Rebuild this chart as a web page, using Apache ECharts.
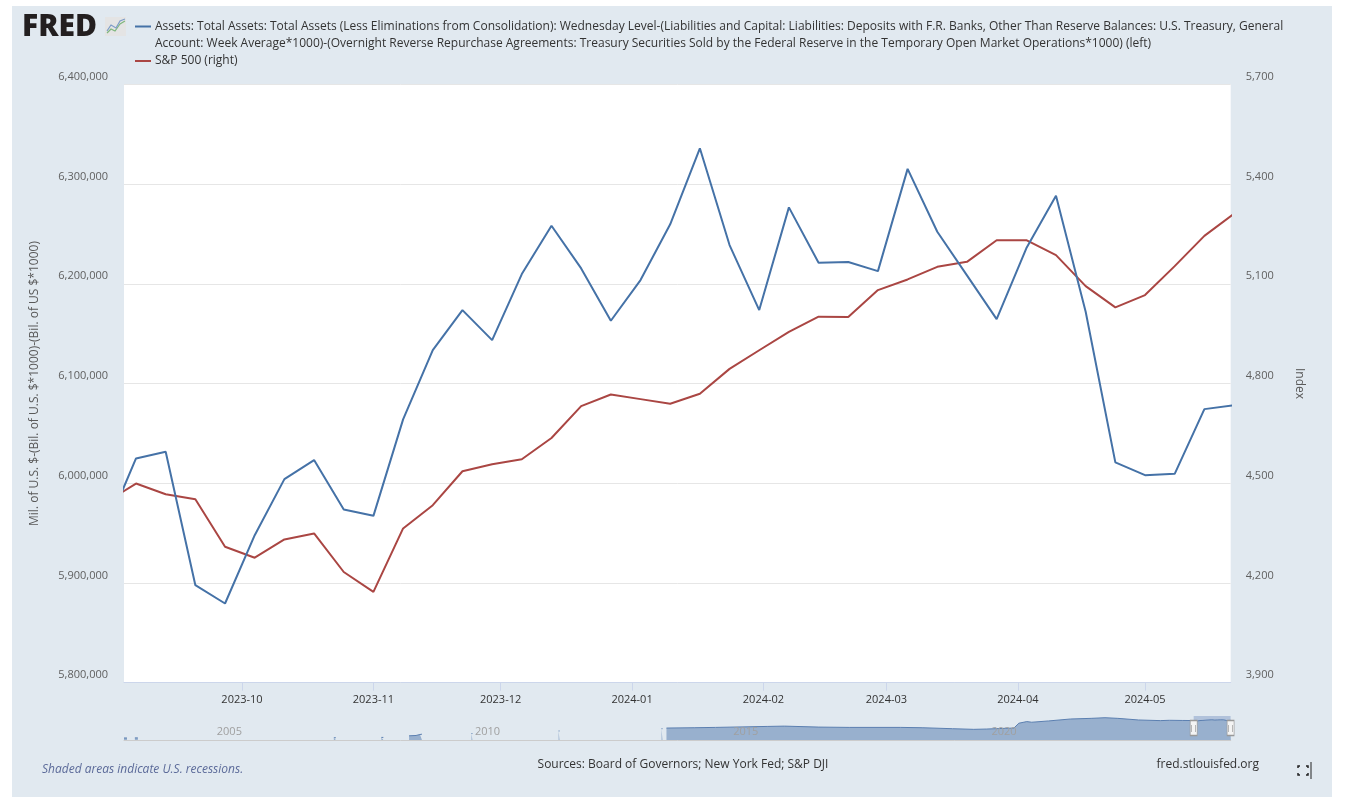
<!DOCTYPE html>
<html>
<head>
<meta charset="utf-8">
<script src="https://cdn.jsdelivr.net/npm/echarts@6/dist/echarts.min.js"></script>
<style>
  html, body { margin: 0; padding: 0; background: #fff; }
  #panel { position: absolute; left: 12px; top: 6px; width: 1320px; height: 791px; background: #e1e9f0; }
  #chart { position: absolute; left: 0; top: 0; width: 1355px; height: 803px; }
</style>
</head>
<body>
<div id="panel"></div>
<div id="chart"></div>
<script>
// weekly observations (first and last fall just outside the visible window)
var weekDates = [
  '2023-08-30', '2023-09-06', '2023-09-13', '2023-09-20', '2023-09-27',
  '2023-10-04', '2023-10-11', '2023-10-18', '2023-10-25',
  '2023-11-01', '2023-11-08', '2023-11-15', '2023-11-22', '2023-11-29',
  '2023-12-06', '2023-12-13', '2023-12-20', '2023-12-27',
  '2024-01-03', '2024-01-10', '2024-01-17', '2024-01-24', '2024-01-31',
  '2024-02-07', '2024-02-14', '2024-02-21', '2024-02-28',
  '2024-03-06', '2024-03-13', '2024-03-20', '2024-03-27',
  '2024-04-03', '2024-04-10', '2024-04-17', '2024-04-24',
  '2024-05-01', '2024-05-08', '2024-05-15', '2024-05-22'
];
var assetsValues = [
  5954500, 6024900, 6031500, 5897800, 5879400,
  5947900, 6004100, 6023200, 5973700,
  5967300, 6064000, 6133500, 6173600, 6143500,
  6209700, 6258200, 6215400, 6162900,
  6203700, 6259600, 6335800, 6238800, 6173600,
  6276600, 6221100, 6221800, 6212700,
  6315200, 6252200, 6208400, 6164600,
  6235500, 6288300, 6171900, 6020900,
  6008100, 6009400, 6074300, 6078300
];
var spxValues = [
  4444, 4499, 4467, 4452, 4309,
  4276, 4331, 4349, 4233,
  4173, 4364, 4434, 4536, 4557,
  4572, 4636, 4732, 4767,
  4753, 4739, 4769, 4844, 4900,
  4955, 5001, 5000, 5081,
  5113, 5151, 5166, 5231,
  5231, 5186, 5093, 5029,
  5066, 5153, 5244, 5311
];
var monthTicks = ['2023-10-01', '2023-11-01', '2023-12-01', '2024-01-01', '2024-02-01',
                  '2024-03-01', '2024-04-01', '2024-05-01'];

// visible window of the main chart
var viewStart = '2023-09-03 04:00:00';
var viewEnd = '2024-05-21 05:00:00';

// long history for the navigator strip ('-' = no observation)
var navHistoryDates = [
  '2002-12-18', '2003-01-08', '2003-01-15', '2003-03-05', '2003-03-26', '2003-04-02',
  '2007-01-10', '2007-01-24', '2007-01-31', '2007-12-12', '2007-12-26', '2008-01-02',
  '2008-06-25', '2008-08-13', '2008-09-10', '2008-09-24', '2008-10-01',
  '2009-09-09', '2009-09-16', '2009-09-23', '2011-05-18', '2011-05-25', '2011-06-01',
  '2013-05-15', '2013-05-22', '2013-05-29',
  '2013-06-19', '2014-01-01', '2014-06-01', '2015-06-01', '2015-10-01', '2016-06-01',
  '2017-01-01', '2018-01-01', '2018-06-01', '2019-01-01', '2019-06-01', '2019-09-01',
  '2020-01-01', '2020-03-11', '2020-04-15', '2020-06-10', '2020-07-15', '2020-11-11',
  '2021-04-14', '2021-09-08', '2021-12-15', '2022-03-16', '2022-08-10', '2023-01-11',
  '2023-03-15', '2023-06-14'
];
var navHistoryValues = [
  620000, 620000, '-', 650000, 650000, '-',
  700000, 700000, '-', 800000, 800000, '-',
  1300000, 1400000, 1700000, 1800000, '-',
  2000000, 2000000, '-', 2800000, 2800000, '-',
  3500000, 3500000, '-',
  3700000, 3800000, 3900000, 4200000, 4300000, 4000000,
  3900000, 3900000, 3800000, 3500000, 3300000, 3400000,
  3600000, 3700000, 5200000, 5700000, 5500000, 5900000,
  6500000, 6700000, 6900000, 6700000, 6200000, 6000000,
  6100000, 6050000
];
var navYearTicks = ['2005-01-01', '2010-01-01', '2015-01-01', '2020-01-01'];
var navRange = ['2002-12-18', '2024-05-22'];

var assetsName = 'Assets: Total Assets: Total Assets (Less Eliminations from Consolidation): Wednesday Level-(Liabilities and Capital: Liabilities: Deposits with F.R. Banks, Other Than Reserve Balances: U.S. Treasury, General\n' +
  'Account: Week Average*1000)-(Overnight Reverse Repurchase Agreements: Treasury Securities Sold by the Federal Reserve in the Temporary Open Market Operations*1000) (left)';
var spxName = 'S&P 500 (right)';
var blue = '#4572a7';
var red = '#aa4643';
var font = '"Open Sans", "DejaVu Sans", sans-serif';

function t(d) { return echarts.time.parse(d).getTime(); }
function pairs(xs, ys) {
  return xs.map(function (d, i) { return [t(d), ys[i]]; });
}
function commas(v) { return Number(v).toLocaleString('en-US'); }

var navData = pairs(navHistoryDates, navHistoryValues).concat(pairs(weekDates.slice(1), assetsValues.slice(1)));
var monthTickValues = monthTicks.map(t);
var yearTickValues = navYearTicks.map(t);

var chart = echarts.init(document.getElementById('chart'));
chart.setOption({
  animation: false,
  backgroundColor: 'transparent',
  textStyle: { fontFamily: font },
  grid: [
    { left: 124, right: 124.3, top: 84.3, bottom: 120.3, show: true, backgroundColor: '#ffffff', borderWidth: 0 },
    { left: 124, right: 124.3, top: 716, height: 24 }
  ],
  xAxis: [
    {
      type: 'value', gridIndex: 0,
      min: t(viewStart), max: t(viewEnd),
      axisLine: { lineStyle: { color: '#ccd6eb' } },
      axisTick: { show: true, length: 8, lineStyle: { color: '#ccd6eb' }, customValues: monthTickValues },
      axisLabel: {
        customValues: monthTickValues, color: '#333', fontSize: 11, margin: 12,
        formatter: function (v) { return echarts.time.format(v, '{yyyy}-{MM}', false); }
      },
      splitLine: { show: false }
    },
    {
      type: 'value', gridIndex: 1, position: 'top', z: 5,
      min: t(navRange[0]), max: t(navRange[1]),
      axisLine: { lineStyle: { color: '#cccccc' } },
      axisTick: { show: false },
      axisLabel: {
        inside: true, customValues: yearTickValues, color: '#a0a0a0', fontSize: 11, margin: 10,
        formatter: function (v) { return echarts.time.format(v, '{yyyy}', false); }
      },
      splitLine: { show: false }
    }
  ],
  yAxis: [
    {
      type: 'value', gridIndex: 0, position: 'left',
      min: 5800000, max: 6400000, interval: 100000,
      axisLine: { show: false }, axisTick: { show: false },
      axisLabel: { color: '#606060', fontSize: 11, margin: 16, verticalAlign: 'bottom', lineHeight: 15, formatter: commas },
      splitLine: { lineStyle: { color: '#e6e6e6' } },
      name: 'Mil. of U.S. $-(Bil. of U.S. $*1000)-(Bil. of US $*1000)',
      nameLocation: 'middle', nameGap: 83, nameRotate: 90,
      nameTextStyle: { color: '#595959', fontSize: 12 }
    },
    {
      type: 'value', gridIndex: 0, position: 'right',
      min: 3900, max: 5700, interval: 300,
      axisLine: { show: false }, axisTick: { show: false },
      axisLabel: { color: '#606060', fontSize: 11, margin: 15, verticalAlign: 'bottom', lineHeight: 15, formatter: commas },
      splitLine: { show: false },
      name: 'Index', nameLocation: 'middle', nameGap: 63, nameRotate: -90,
      nameTextStyle: { color: '#595959', fontSize: 12 }
    },
    { type: 'value', gridIndex: 1, min: 0, max: 7430000, show: false }
  ],
  series: [
    {
      name: assetsName, type: 'line', xAxisIndex: 0, yAxisIndex: 0,
      data: pairs(weekDates, assetsValues),
      showSymbol: false, symbol: 'none', clip: true,
      lineStyle: { color: blue, width: 2 }, itemStyle: { color: blue }, z: 3
    },
    {
      name: spxName, type: 'line', xAxisIndex: 0, yAxisIndex: 1,
      data: pairs(weekDates, spxValues),
      showSymbol: false, symbol: 'none', clip: true,
      lineStyle: { color: red, width: 2 }, itemStyle: { color: red }, z: 2
    },
    {
      type: 'line', xAxisIndex: 1, yAxisIndex: 2, silent: true,
      data: navData, connectNulls: false,
      showSymbol: false, symbol: 'none',
      lineStyle: { color: '#5b7fb0', width: 1 },
      areaStyle: { color: '#98b0ce', opacity: 1 },
      markArea: {
        silent: true,
        itemStyle: { color: 'rgba(90,122,180,0.35)' },
        data: [[{ xAxis: t(viewStart) }, { xAxis: t(viewEnd) }]]
      },
      markPoint: {
        silent: true, symbol: 'rect', symbolSize: [7, 15],
        itemStyle: { color: '#f4f4f4', borderColor: '#999', borderWidth: 1 },
        label: { show: true, formatter: '||', color: '#777', fontSize: 7 },
        data: [
          { coord: [t(viewStart), 3715000] },
          { coord: [t(viewEnd), 3715000] }
        ]
      }
    }
  ],
  graphic: [
    { type: 'text', left: 22, top: 12, style: { text: 'FRED', font: '800 30px ' + font, fill: '#231f20' } },
    { type: 'rect', shape: { x: 105, y: 17, width: 21, height: 19 }, style: { fill: '#e4e4e4' } },
    { type: 'polyline', shape: { points: [[107, 33], [111, 29], [115, 31], [120, 24], [125, 21]] }, style: { stroke: '#7fb77e', lineWidth: 1.2, fill: null } },
    { type: 'polyline', shape: { points: [[107, 31], [111, 25], [116, 28], [120, 21], [125, 19]] }, style: { stroke: '#7d9cc8', lineWidth: 1.2, fill: null } },
    { type: 'line', shape: { x1: 135, y1: 26.5, x2: 151, y2: 26.5 }, style: { stroke: blue, lineWidth: 2 } },
    { type: 'text', x: 155, y: 18.5, style: { text: assetsName, font: '12px ' + font, fill: '#333', lineHeight: 16.5, verticalAlign: 'top' } },
    { type: 'line', shape: { x1: 135, y1: 61, x2: 151, y2: 61 }, style: { stroke: red, lineWidth: 2 } },
    { type: 'text', x: 155, y: 61, style: { text: spxName, font: '12px ' + font, fill: '#333', verticalAlign: 'middle' } },
    { type: 'text', x: 42, y: 770, style: { text: 'Shaded areas indicate U.S. recessions.', font: 'italic 12px ' + font, fill: '#5b6a99', verticalAlign: 'middle' } },
    { type: 'text', x: 683, y: 765, style: { text: 'Sources: Board of Governors; New York Fed; S&P DJI', font: '12px ' + font, fill: '#333', align: 'center', verticalAlign: 'middle' } },
    { type: 'text', x: 1259, y: 765, style: { text: 'fred.stlouisfed.org', font: '12px ' + font, fill: '#333', align: 'right', verticalAlign: 'middle' } },
    { type: 'polyline', shape: { points: [[1298, 768], [1298, 766], [1300, 766]] }, style: { stroke: '#222', lineWidth: 1.5, fill: null } },
    { type: 'polyline', shape: { points: [[1306, 766], [1308, 766], [1308, 768]] }, style: { stroke: '#222', lineWidth: 1.5, fill: null } },
    { type: 'polyline', shape: { points: [[1298, 773], [1298, 775], [1300, 775]] }, style: { stroke: '#222', lineWidth: 1.5, fill: null } },
    { type: 'polyline', shape: { points: [[1306, 775], [1308, 775], [1308, 773]] }, style: { stroke: '#222', lineWidth: 1.5, fill: null } },
    { type: 'line', shape: { x1: 1311, y1: 762, x2: 1311, y2: 779 }, style: { stroke: '#222', lineWidth: 1 } }
  ]
});
</script>
</body>
</html>
